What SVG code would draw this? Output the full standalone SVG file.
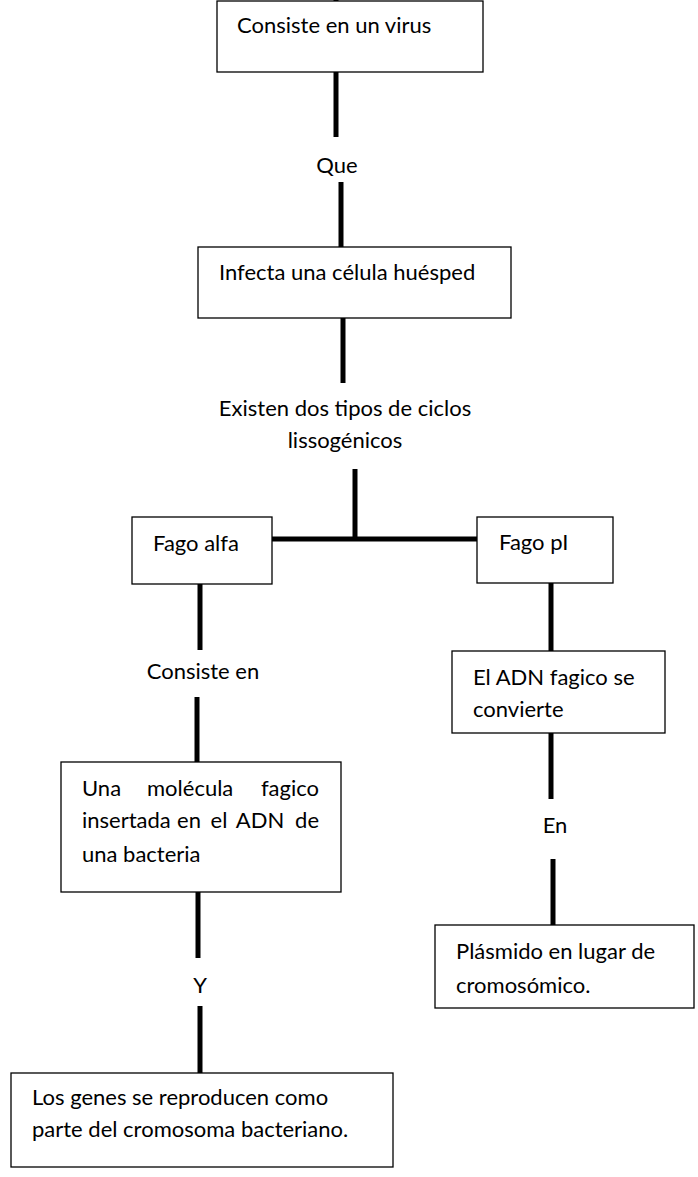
<svg xmlns="http://www.w3.org/2000/svg" width="698" height="1177" viewBox="0 0 698 1177">
<style>
  .box{fill:#fff;stroke:#000;stroke-width:1.3}
  .t{font-family:Lato,"Open Sans","Liberation Sans",sans-serif;font-size:22px;fill:#000}
  .c{text-anchor:middle}
  .con line{stroke:#000;stroke-width:5}
</style>
<rect width="698" height="1177" fill="#fff"/>
<g id="connectors" class="con">
  <line x1="336" y1="-4" x2="336" y2="2"/>
  <line x1="336" y1="72" x2="336" y2="137"/>
  <line x1="341" y1="182" x2="341" y2="247"/>
  <line x1="343" y1="318" x2="343" y2="383"/>
  <line x1="355" y1="469" x2="355" y2="537"/>
  <line x1="272" y1="539" x2="480" y2="539"/>
  <line x1="200" y1="584" x2="200" y2="650"/>
  <line x1="197" y1="697" x2="197" y2="762"/>
  <line x1="198" y1="892" x2="198" y2="958"/>
  <line x1="200" y1="1006" x2="200" y2="1073"/>
  <line x1="551" y1="583" x2="551" y2="651"/>
  <line x1="551" y1="733" x2="551" y2="799"/>
  <line x1="553" y1="859" x2="553" y2="925"/>
</g>
<g id="labels">
  <text class="t c" x="337" y="173">Que</text>
  <text class="t c" x="345" y="416">Existen dos tipos de ciclos</text>
  <text class="t c" x="345" y="448">lissogénicos</text>
  <text class="t c" x="203" y="679">Consiste en</text>
  <text class="t c" x="555" y="833">En</text>
  <text class="t c" x="200" y="993">Y</text>
</g>
<g id="n1">
  <rect class="box" x="217" y="1" width="266" height="71"/>
  <text class="t" x="237" y="33">Consiste en un virus</text>
</g>
<g id="n2">
  <rect class="box" x="198" y="247" width="313" height="71"/>
  <text class="t" x="219" y="280">Infecta una célula huésped</text>
</g>
<g id="n3">
  <rect class="box" x="132" y="517" width="140" height="67"/>
  <text class="t" x="153" y="551">Fago alfa</text>
</g>
<g id="n4">
  <rect class="box" x="477" y="517" width="136" height="66"/>
  <text class="t" x="499" y="550">Fago pI</text>
</g>
<g id="n5">
  <rect class="box" x="452" y="651" width="213" height="82"/>
  <text class="t" x="473" y="685">El ADN fagico se</text>
  <text class="t" x="473" y="717">convierte</text>
</g>
<g id="n6">
  <rect class="box" x="61" y="762" width="280" height="130"/>
  <text class="t" y="796"><tspan x="82">Una</tspan><tspan x="147">molécula</tspan><tspan x="319" text-anchor="end">fagico</tspan></text>
  <text class="t" y="828"><tspan x="82">insertada</tspan><tspan x="189" text-anchor="middle">en</tspan><tspan x="219" text-anchor="middle">el</tspan><tspan x="260" text-anchor="middle">ADN</tspan><tspan x="319" text-anchor="end">de</tspan></text>
  <text class="t" x="82" y="862">una bacteria</text>
</g>
<g id="n7">
  <rect class="box" x="435" y="925" width="259" height="83"/>
  <text class="t" x="456" y="959">Plásmido en lugar de</text>
  <text class="t" x="456" y="993">cromosómico.</text>
</g>
<g id="n8">
  <rect class="box" x="11" y="1073" width="382" height="94"/>
  <text class="t" x="32" y="1105">Los genes se reproducen como</text>
  <text class="t" x="32" y="1137">parte del cromosoma bacteriano.</text>
</g>
</svg>
